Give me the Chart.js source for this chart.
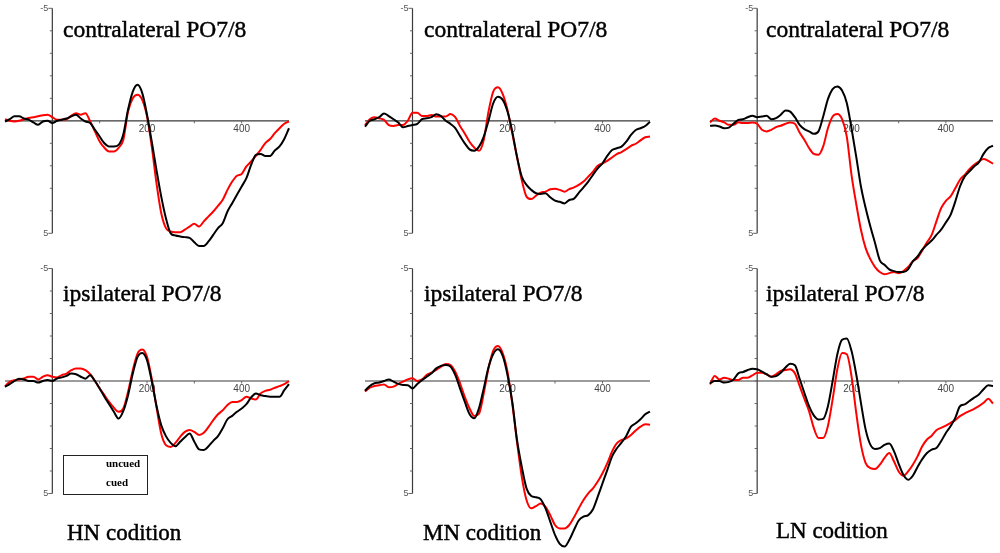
<!DOCTYPE html>
<html>
<head>
<meta charset="utf-8">
<script src="https://cdn.jsdelivr.net/npm/chart.js@4.4.1/dist/chart.umd.min.js"></script>
<style>
  body { margin: 0; background: #fff; }
  #page { position: relative; width: 1000px; height: 553px; overflow: hidden; }
  #page canvas { position: absolute; left: 0; top: 0; }
  .title, .cond {
    position: absolute; white-space: nowrap; color: #000;
    font-family: "Liberation Serif", "Times New Roman", serif;
    -webkit-text-stroke: 0.45px #000;
  }
  .title { font-size: 23.5px; line-height: 23.5px; }
  .cond { font-size: 23px; line-height: 23px; }
  .legend-box {
    position: absolute; left: 63px; top: 455px; width: 85px; height: 40px;
    box-sizing: border-box; border: 1px solid #222; background: #fff;
  }
  .legend-item {
    position: absolute; white-space: nowrap; color: #000;
    font-family: "Liberation Serif", "Times New Roman", serif;
    font-weight: bold; font-size: 11px; line-height: 11px;
  }
</style>
</head>
<body>
<div id="page">
  <canvas id="hnContra" width="1000" height="553"></canvas>
  <canvas id="hnIpsi" width="1000" height="553"></canvas>
  <canvas id="mnContra" width="1000" height="553"></canvas>
  <canvas id="mnIpsi" width="1000" height="553"></canvas>
  <canvas id="lnContra" width="1000" height="553"></canvas>
  <canvas id="lnIpsi" width="1000" height="553"></canvas>

  <div class="title" style="left:63px;top:18px">contralateral PO7/8</div>
  <div class="title" style="left:424px;top:18px">contralateral PO7/8</div>
  <div class="title" style="left:766px;top:18px">contralateral PO7/8</div>
  <div class="title" style="left:63px;top:282px">ipsilateral PO7/8</div>
  <div class="title" style="left:424px;top:282px">ipsilateral PO7/8</div>
  <div class="title" style="left:766px;top:282px">ipsilateral PO7/8</div>

  <div class="legend-box"></div>
  <div class="legend-item" style="left:106px;top:458px">uncued</div>
  <div class="legend-item" style="left:106px;top:477px">cued</div>

  <div class="cond" style="left:67px;top:521px">HN codition</div>
  <div class="cond" style="left:423px;top:521px">MN codition</div>
  <div class="cond" style="left:776px;top:519px">LN codition</div>
</div>

<script>
// time axis (ms) and amplitude (µV, negative up)
const times = [-100, -90, -80, -70, -60, -50, -40, -30, -20, -10,
  0, 10, 20, 30, 40, 50, 60, 70, 80, 90,
  100, 110, 120, 130, 140, 150, 160, 170, 180, 190,
  200, 210, 220, 230, 240, 250, 260, 270, 280, 290,
  300, 310, 320, 330, 340, 350, 360, 370, 380, 390,
  400, 410, 420, 430, 440, 450, 460, 470, 480, 490,
  500];

const xTickValues = [100, 200, 300, 400];
const xTickLabels = ['', '200', '', '400'];
const yTickValues = [-5, -4, -3, -2, -1, 0, 1, 2, 3, 4, 5];
const yTickLabels = ['-5', '', '', '', '', '', '', '', '', '', '5'];

// HN condition
const hnContraUncued = [0.03, -0.07, -0.2, -0.2, -0.1, -0.05, 0.07, 0.18, 0.03, 0,
  0.1, 0, -0.05, -0.1, -0.2, -0.27, -0.1, 0.03, 0.1, 0.4,
  0.7, 1.0, 1.14, 1.14, 1.07, 0.6, -0.5, -1.3, -1.6, -1.23,
  -0.27, 0.92, 2.18, 3.36, 4.33, 5.0, 5.1, 5.14, 5.17, 5.2,
  5.4, 5.56, 5.56, 5.36, 5.07, 4.77, 4.55, 4.03, 3.66, 3.29,
  2.92, 2.55, 1.96, 1.51, 1.47, 1.56, 1.56, 1.32, 1.14, 0.81,
  0.33];
const hnContraCued = [-0.07, 0, 0.03, 0, -0.07, -0.12, -0.16, -0.2, -0.25, -0.27,
  -0.16, -0.05, -0.05, -0.07, -0.22, -0.34, -0.27, -0.34, 0.03, 0.47,
  0.92, 1.2, 1.36, 1.36, 1.2, 0.84, -0.41, -1.0, -1.16, -0.93,
  -0.2, 1.14, 2.77, 4.1, 4.77, 4.92, 4.95, 4.95, 4.84, 4.7,
  4.58, 4.7, 4.47, 4.25, 4.03, 3.78, 3.51, 3.07, 2.7, 2.44,
  2.36, 2.03, 1.81, 1.56, 1.29, 0.99, 0.81, 0.55, 0.33, 0.13,
  0.03];
const hnIpsiUncued = [0.26, 0.14, 0, -0.1, -0.07, 0, 0, 0.07, 0, -0.04,
  0, -0.11, -0.16, -0.23, -0.33, -0.3, -0.19, -0.1, -0.26, 0,
  0.33, 0.7, 1.03, 1.37, 1.67, 1.33, 0.63, -0.33, -1.07, -1.25,
  -0.93, 0, 1.1, 1.96, 2.45, 2.75, 2.9, 2.7, 2.5, 2.33,
  2.7, 3.04, 3.07, 2.9, 2.66, 2.45, 2.1, 1.7, 1.55, 1.37,
  1.22, 1.03, 0.73, 0.55, 0.63, 0.67, 0.7, 0.7, 0.7, 0.41,
  0.14];
const hnIpsiCued = [0.23, 0.04, -0.04, -0.07, -0.11, -0.19, -0.19, -0.07, -0.19, -0.26,
  -0.19, -0.16, -0.26, -0.33, -0.48, -0.56, -0.56, -0.48, -0.3, 0,
  0.33, 0.63, 0.93, 1.19, 1.37, 1.22, 0.48, -0.48, -1.22, -1.4,
  -1.07, -0.1, 1.15, 2.33, 2.85, 2.93, 2.75, 2.48, 2.26, 2.18,
  2.26, 2.4, 2.3, 2.04, 1.74, 1.48, 1.3, 1.07, 0.93, 0.93,
  0.85, 0.7, 0.78, 0.82, 0.55, 0.44, 0.39, 0.3, 0.23, 0.14,
  0];

// MN condition
const mnContraUncued = [0.26, 0, -0.07, -0.16, -0.33, -0.21, -0.07, 0.08, 0.29, 0.23,
  0.19, 0.14, -0.07, -0.11, -0.16, -0.29, -0.21, 0, 0.14, 0.33,
  0.67, 1.0, 1.27, 1.33, 1.15, 0.7, 0, -0.78, -1.07, -0.93,
  -0.41, 0.48, 1.6, 2.48, 2.85, 3.07, 3.22, 3.25, 3.22, 3.4,
  3.55, 3.6, 3.67, 3.52, 3.46, 3.2, 2.96, 2.7, 2.4, 2.11,
  1.89, 1.56, 1.3, 1.22, 1.15, 0.93, 0.63, 0.41, 0.33, 0.23,
  0.04];
const mnContraCued = [0.19, -0.07, -0.16, -0.11, -0.04, 0.19, 0.23, 0.19, 0.19, 0,
  -0.36, -0.36, -0.21, -0.21, -0.26, -0.19, -0.19, -0.19, -0.3, -0.16,
  0.23, 0.56, 0.93, 1.19, 1.33, 0.85, -0.41, -1.3, -1.49, -1.19,
  -0.48, 0.56, 1.6, 2.63, 3.37, 3.48, 3.33, 3.19, 3.15, 3.04,
  3.02, 3.07, 3.15, 3.04, 2.96, 2.85, 2.7, 2.48, 2.26, 2.0,
  1.89, 1.78, 1.63, 1.48, 1.39, 1.26, 1.11, 1.02, 0.87, 0.73,
  0.7];
const mnIpsiUncued = [0.43, 0.22, 0.1, 0.07, 0, -0.07, 0.03, 0.13, 0.18, 0.19,
  0.33, 0.13, -0.04, -0.19, -0.34, -0.56, -0.67, -0.71, -0.64, -0.27,
  0.33, 0.92, 1.47, 1.66, 1.21, 0.33, -0.61, -1.2, -1.41, -1.11,
  -0.27, 0.92, 2.62, 3.81, 4.77, 5.11, 5.17, 5.26, 5.66, 6.25,
  6.84, 7.24, 7.36, 7.07, 6.62, 6.2, 6.03, 5.96, 5.7, 5.14,
  4.55, 3.96, 3.36, 3.0, 2.74, 2.44, 2.03, 1.88, 1.7, 1.48,
  1.36];
const mnIpsiCued = [0.47, 0.3, 0.22, 0.19, 0.15, 0.28, 0.25, 0.13, 0.03, -0.07,
  -0.12, 0, -0.07, -0.27, -0.37, -0.49, -0.64, -0.76, -0.71, -0.41,
  0.1, 0.7, 1.21, 1.55, 1.45, 0.55, -0.56, -1.35, -1.56, -1.23,
  -0.41, 1.0, 2.7, 4.25, 5.29, 5.66, 5.56, 5.44, 5.59, 5.96,
  6.4, 6.55, 6.55, 6.4, 6.06, 5.66, 5.29, 4.99, 4.77, 4.47,
  4.1, 3.66, 3.14, 2.77, 2.62, 2.55, 2.4, 2.2, 2.03, 1.92,
  1.95];

// LN condition
const lnContraUncued = [0.22, 0.21, 0.25, 0.33, 0.3, 0.13, -0.04, -0.07, -0.16, -0.22,
  -0.16, -0.19, -0.22, -0.07, -0.12, -0.27, -0.46, -0.41, -0.16, 0.18,
  0.37, 0.47, 0.58, 0.47, -0.19, -0.96, -1.41, -1.53, -1.35, -0.79,
  0.33, 1.59, 2.92, 3.88, 4.7, 5.44, 6.2, 6.4, 6.6, 6.68,
  6.72, 6.72, 6.6, 6.25, 6.03, 5.73, 5.51, 5.32, 5.07, 4.84,
  4.52, 4.18, 3.59, 2.92, 2.47, 2.25, 2.03, 1.85, 1.47, 1.21,
  1.11];
const lnContraCued = [0.07, -0.1, 0, 0.07, 0.18, 0.18, 0.07, 0.1, 0.1, 0.07,
  0.13, 0.4, 0.47, 0.4, 0.28, 0.22, 0.13, 0.07, 0.13, 0.52,
  0.84, 1.21, 1.47, 1.51, 1.14, 0.33, -0.19, -0.3, -0.07, 0.7,
  2.4, 3.69, 4.84, 5.66, 6.15, 6.5, 6.72, 6.82, 6.77, 6.72,
  6.77, 6.68, 6.5, 6.24, 6.1, 5.76, 5.4, 5.07, 4.47, 3.88,
  3.56, 3.36, 3.0, 2.62, 2.4, 2.15, 1.96, 1.81, 1.7, 1.78,
  1.91];
const lnIpsiUncued = [0.1, 0, 0, 0.07, 0.04, -0.07, -0.34, -0.4, -0.49, -0.55,
  -0.52, -0.42, -0.3, -0.19, -0.22, -0.37, -0.6, -0.77, -0.7, -0.1,
  0.52, 1.12, 1.53, 1.71, 1.68, 1.12, 0, -1.19, -1.83, -1.89,
  -1.34, -0.3, 0.97, 2.16, 2.83, 3.02, 2.98, 2.84, 2.78, 3.12,
  3.68, 4.17, 4.39, 4.21, 3.82, 3.47, 3.2, 3.05, 2.98, 2.68,
  2.31, 2.01, 1.64, 1.12, 1.04, 0.89, 0.74, 0.6, 0.37, 0.19,
  0.22];
const lnIpsiCued = [0.15, -0.22, -0.07, -0.15, -0.1, -0.04, -0.04, -0.15, -0.15, -0.25,
  -0.37, -0.37, -0.3, -0.19, -0.3, -0.45, -0.49, -0.52, -0.34, 0.22,
  0.79, 1.34, 2.08, 2.53, 2.53, 2.0, 0.82, -0.52, -1.24, -1.19,
  -0.22, 1.41, 2.83, 3.65, 3.87, 3.91, 3.72, 3.42, 3.2, 3.57,
  4.02, 4.21, 4.02, 3.72, 3.35, 2.9, 2.6, 2.43, 2.19, 2.08,
  1.98, 1.86, 1.74, 1.56, 1.44, 1.34, 1.24, 1.12, 0.97, 0.79,
  1.0];

// where each panel's plot box sits on the page (padding around the chart area)
const panels = [
  { id: 'hnContra', uncued: hnContraUncued, cued: hnContraCued, pad: { left: 5, right: 711, top: 8.3, bottom: 319.7 } },
  { id: 'hnIpsi', uncued: hnIpsiUncued, cued: hnIpsiCued, pad: { left: 5, right: 711, top: 268.5, bottom: 59.5 } },
  { id: 'mnContra', uncued: mnContraUncued, cued: mnContraCued, pad: { left: 365, right: 350, top: 8.3, bottom: 319.7 } },
  { id: 'mnIpsi', uncued: mnIpsiUncued, cued: mnIpsiCued, pad: { left: 365, right: 350, top: 268.5, bottom: 59.5 } },
  { id: 'lnContra', uncued: lnContraUncued, cued: lnContraCued, pad: { left: 710, right: 7, top: 8.3, bottom: 319.7 } },
  { id: 'lnIpsi', uncued: lnIpsiUncued, cued: lnIpsiCued, pad: { left: 710, right: 7, top: 268.5, bottom: 59.5 } }
];

// draws the zero-crossing axes like the ERP software does
const erpAxes = {
  id: 'erpAxes',
  beforeDatasetsDraw(chart) {
    const { ctx } = chart;
    const x = chart.scales.x, y = chart.scales.y;
    const x0 = x.getPixelForValue(0);
    const y0 = y.getPixelForValue(0);
    ctx.save();
    ctx.strokeStyle = '#3a3a3a';
    ctx.lineWidth = 1.2;
    ctx.beginPath();
    ctx.moveTo(x.getPixelForValue(times[0]), y0);
    ctx.lineTo(x.getPixelForValue(times[times.length - 1]), y0);
    ctx.moveTo(x0, y.getPixelForValue(yTickValues[0]));
    ctx.lineTo(x0, y.getPixelForValue(yTickValues[yTickValues.length - 1]));
    ctx.stroke();

    ctx.lineWidth = 1;
    ctx.strokeStyle = '#666';
    ctx.beginPath();
    yTickValues.forEach((v, i) => {
      const py = y.getPixelForValue(v);
      ctx.moveTo(x0 - (yTickLabels[i] ? 4 : 2.5), py);
      ctx.lineTo(x0, py);
    });
    xTickValues.forEach(v => {
      const px = x.getPixelForValue(v);
      ctx.moveTo(px, y0);
      ctx.lineTo(px, y0 + 2.5);
    });
    ctx.stroke();

    ctx.fillStyle = '#555';
    ctx.font = '9px "Liberation Sans", Arial, sans-serif';
    ctx.textAlign = 'right';
    ctx.textBaseline = 'middle';
    yTickValues.forEach((v, i) => {
      if (yTickLabels[i]) ctx.fillText(yTickLabels[i], x0 - 4, y.getPixelForValue(v));
    });
    ctx.font = '10px "Liberation Sans", Arial, sans-serif';
    ctx.fillStyle = '#444';
    ctx.textAlign = 'center';
    xTickValues.forEach((v, i) => {
      if (xTickLabels[i]) ctx.fillText(xTickLabels[i], x.getPixelForValue(v), y0 + 8.5);
    });
    ctx.restore();
  }
};

function toPoints(values) {
  return times.map((t, i) => ({ x: t, y: values[i] }));
}

panels.forEach(p => {
  const ctx = document.getElementById(p.id).getContext('2d');
  new Chart(ctx, {
    type: 'line',
    data: {
      datasets: [
        { label: 'uncued', data: toPoints(p.uncued), borderColor: '#000000', borderWidth: 2, clip: false },
        { label: 'cued', data: toPoints(p.cued), borderColor: '#ff0000', borderWidth: 2, clip: false }
      ]
    },
    options: {
      responsive: false,
      animation: false,
      layout: { padding: p.pad },
      elements: {
        point: { radius: 0 },
        line: { cubicInterpolationMode: 'monotone', fill: false }
      },
      scales: {
        x: { type: 'linear', min: times[0], max: times[times.length - 1], display: false },
        y: { type: 'linear', min: yTickValues[0], max: yTickValues[yTickValues.length - 1], reverse: true, display: false }
      },
      plugins: {
        legend: { display: false },
        tooltip: { enabled: false }
      }
    },
    plugins: [erpAxes]
  });
});
</script>
</body>
</html>
